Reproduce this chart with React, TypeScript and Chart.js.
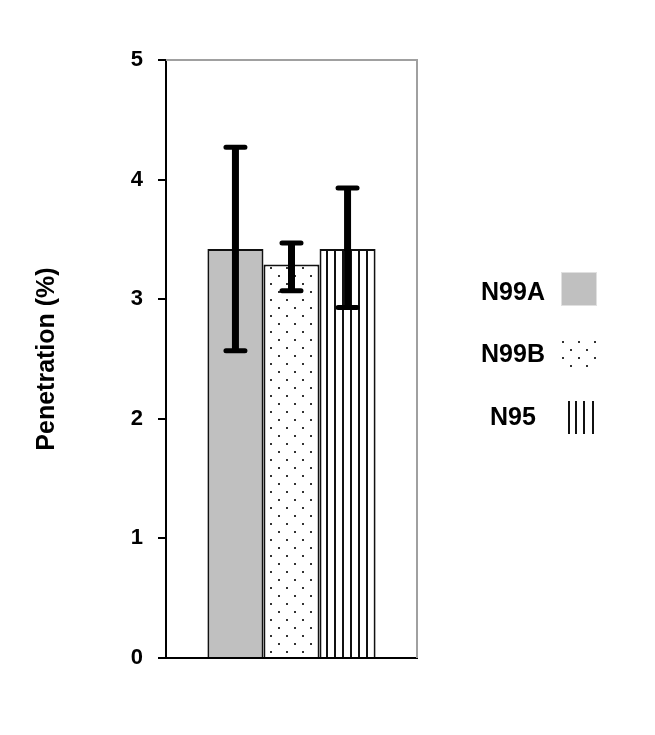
import { useEffect, useRef } from 'react';
import { Chart, registerables } from 'chart.js';

Chart.register(...registerables);

const categories = [''];
const seriesLabels = ['N99A', 'N99B', 'N95'];
const means = [3.42, 3.29, 3.42];
const errLow = [2.57, 3.07, 2.93];
const errHigh = [4.27, 3.47, 3.93];
const yTicks = [0, 1, 2, 3, 4, 5];
const yTitle = 'Penetration (%)';

const FONT = '"Liberation Sans", Arial, sans-serif';

function makeDotPattern(ctx: CanvasRenderingContext2D): CanvasPattern | string {
  const c = document.createElement('canvas');
  c.width = 16;
  c.height = 16;
  const p = c.getContext('2d')!;
  p.fillStyle = '#ffffff';
  p.fillRect(0, 0, 16, 16);
  p.fillStyle = '#333333';
  p.fillRect(14, 11, 2, 2);
  p.fillRect(6, 3, 2, 2);
  return ctx.createPattern(c, 'repeat') || '#fff';
}

function makeLinePattern(ctx: CanvasRenderingContext2D): CanvasPattern | string {
  const c = document.createElement('canvas');
  c.width = 8;
  c.height = 8;
  const p = c.getContext('2d')!;
  p.fillStyle = '#ffffff';
  p.fillRect(0, 0, 8, 8);
  p.fillStyle = '#111111';
  p.fillRect(6, 0, 2, 8);
  return ctx.createPattern(c, 'repeat') || '#fff';
}

const frameAndErrors = {
  id: 'frameAndErrors',
  beforeDatasetsDraw(chart: any) {
    const { ctx, chartArea } = chart;
    ctx.save();
    ctx.strokeStyle = '#a0a0a0';
    ctx.lineWidth = 2;
    ctx.beginPath();
    ctx.moveTo(chartArea.left, chartArea.top);
    ctx.lineTo(chartArea.right, chartArea.top);
    ctx.lineTo(chartArea.right, chartArea.bottom);
    ctx.stroke();
    ctx.restore();
  },
  afterDatasetsDraw(chart: any) {
    const { ctx } = chart;
    const y = chart.scales.y;
    ctx.save();
    ctx.strokeStyle = '#000';
    chart.data.datasets.forEach((_ds: any, i: number) => {
      const meta = chart.getDatasetMeta(i);
      const bar = meta.data[0];
      if (!bar) return;
      const x = bar.x;
      const yl = y.getPixelForValue(errLow[i]);
      const yh = y.getPixelForValue(errHigh[i]);
      ctx.lineCap = 'butt';
      ctx.lineWidth = 7;
      ctx.beginPath();
      ctx.moveTo(x, yl);
      ctx.lineTo(x, yh);
      ctx.stroke();
      ctx.lineCap = 'round';
      ctx.lineWidth = 5;
      ctx.beginPath();
      ctx.moveTo(x - 9.5, yl);
      ctx.lineTo(x + 9.5, yl);
      ctx.moveTo(x - 9.5, yh);
      ctx.lineTo(x + 9.5, yh);
      ctx.stroke();
    });
    ctx.restore();
  },
  afterDraw(chart: any) {
    const { ctx, chartArea } = chart;
    const textX = chartArea.right + 96;
    const boxL = chartArea.right + 144;
    const rows = [chartArea.top + 232, chartArea.top + 294, chartArea.top + 357];
    ctx.save();
    ctx.font = `bold 25px ${FONT}`;
    ctx.fillStyle = '#000';
    ctx.textAlign = 'center';
    ctx.textBaseline = 'middle';
    seriesLabels.forEach((lab, i) => {
      ctx.fillText(lab, textX, rows[i] + 1);
    });
    // N99A swatch
    ctx.fillStyle = '#c0c0c0';
    ctx.fillRect(boxL, rows[0] - 20, 36, 34);
    ctx.strokeStyle = '#e0e0e0';
    ctx.lineWidth = 1;
    ctx.strokeRect(boxL + 0.5, rows[0] - 19.5, 35, 33);
    // N99B swatch (dots)
    ctx.fillStyle = '#333';
    const dy = [-12, -4, 4, 12];
    dy.forEach((d, r) => {
      const xs = r % 2 === 0 ? [2, 18, 34] : [10, 26];
      xs.forEach((dx) => ctx.fillRect(boxL + dx - 1, rows[1] + d - 1, 2, 2));
    });
    // N95 swatch (lines)
    ctx.fillStyle = '#111';
    [8, 15, 23, 32].forEach((dx) => ctx.fillRect(boxL + dx - 1, rows[2] - 16, 2, 33));
    ctx.restore();
  },
};

export default function App() {
  const ref = useRef<HTMLCanvasElement>(null);
  useEffect(() => {
    const canvas = ref.current!;
    const ctx = canvas.getContext('2d')!;
    const fills = ['#c0c0c0', makeDotPattern(ctx), makeLinePattern(ctx)];
    const chart = new Chart(ctx, {
      type: 'bar',
      data: {
        labels: categories,
        datasets: seriesLabels.map((lab, i) => ({
          label: lab,
          data: [means[i]],
          backgroundColor: fills[i] as any,
          borderColor: '#111',
          borderWidth: 2,
          borderSkipped: 'start',
          categoryPercentage: 0.67,
          barPercentage: 1,
        })),
      },
      options: {
        animation: false,
        responsive: true,
        maintainAspectRatio: false,
        layout: { padding: { top: 60, right: 238, bottom: 0, left: 0 } },
        plugins: { legend: { display: false }, tooltip: { enabled: false } },
        scales: {
          x: {
            grid: { display: false },
            ticks: { display: false },
            border: { display: true, color: '#000', width: 2 },
            afterFit: (s: any) => {
              s.height = 77;
            },
          },
          y: {
            min: 0,
            max: 5,
            afterBuildTicks: (s: any) => {
              s.ticks = yTicks.map((v) => ({ value: v }));
            },
            ticks: {
              color: '#000',
              padding: 15,
              font: { family: FONT, size: 22, weight: 'bold' },
            },
            grid: {
              drawOnChartArea: false,
              drawTicks: true,
              tickLength: 8,
              color: '#000',
              lineWidth: 2,
            },
            border: { display: true, color: '#000', width: 2 },
            title: {
              display: true,
              text: yTitle,
              color: '#000',
              padding: { top: 32, bottom: 0 },
              font: { family: FONT, size: 25, weight: 'bold' },
            },
            afterFit: (s: any) => {
              s.width = 166;
            },
          },
        },
      },
      plugins: [frameAndErrors],
    });
    return () => chart.destroy();
  }, []);
  return (
    <div style={{ position: 'absolute', left: 0, top: 0, width: 655, height: 735, background: '#fff' }}>
      <canvas ref={ref} />
    </div>
  );
}
